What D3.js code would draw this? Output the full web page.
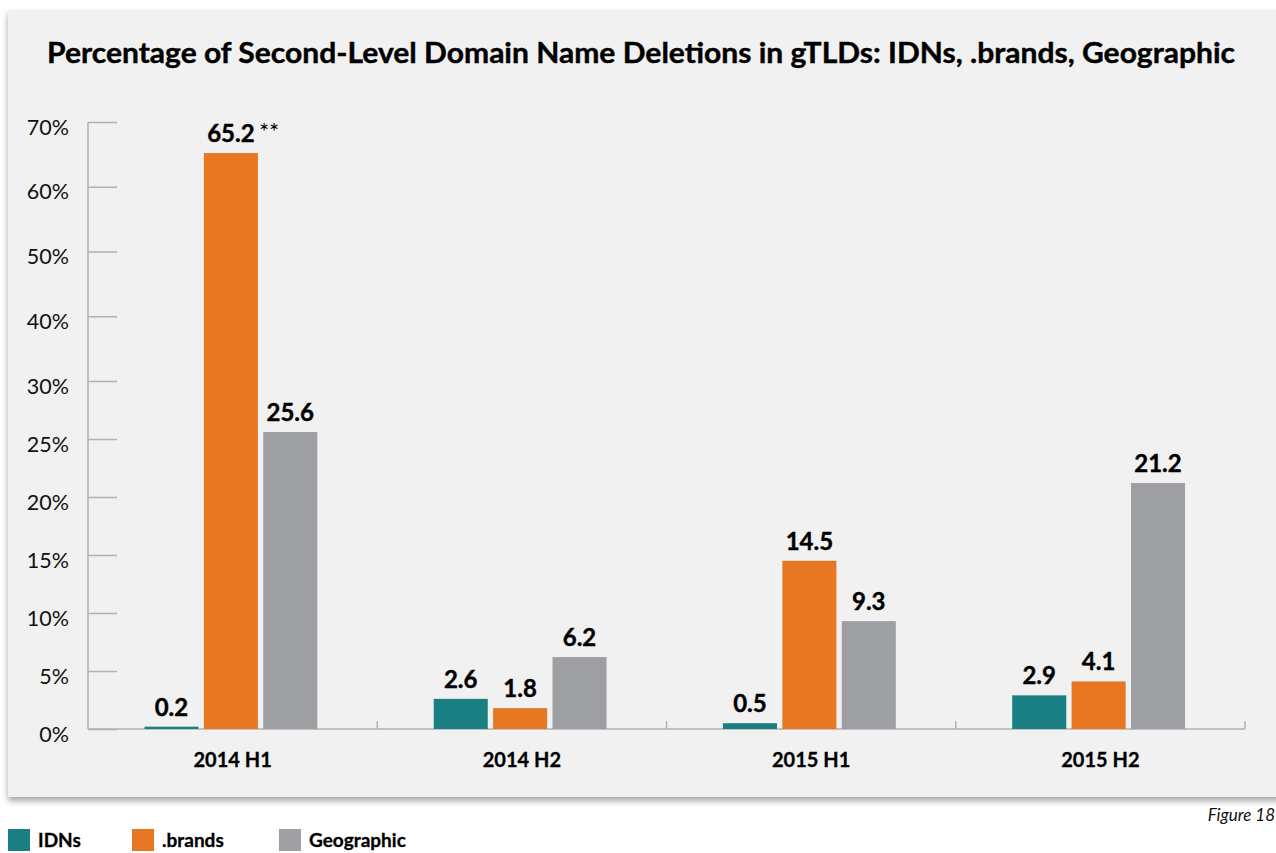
<!DOCTYPE html>
<html>
<head>
<meta charset="utf-8">
<script src="https://cdn.jsdelivr.net/npm/d3@7"></script>
<style>
  html, body { margin: 0; padding: 0; background: #ffffff; }
  svg { display: block; }
</style>
</head>
<body>
<script>
const categories = ["2014 H1", "2014 H2", "2015 H1", "2015 H2"];
const seriesNames = ["IDNs", ".brands", "Geographic"];
const idns = [0.2, 2.6, 0.5, 2.9];
const brands = [65.2, 1.8, 14.5, 4.1];
const geographic = [25.6, 6.2, 9.3, 21.2];
const seriesValues = [idns, brands, geographic];
const colors = ["#1a7f82", "#e87722", "#9e9fa3"];
const yTicks = [0, 5, 10, 15, 20, 25, 30, 40, 50, 60, 70];
const title = "Percentage of Second-Level Domain Name Deletions in gTLDs: IDNs, .brands, Geographic";
const footnoteMark = "**";
const figureLabel = "Figure 18";

const W = 1276, H = 853;
const svg = d3.select("body").append("svg").attr("width", W).attr("height", H);

const defs = svg.append("defs");
const f = defs.append("filter").attr("id", "shadow").attr("x", "-5%").attr("y", "-5%").attr("width", "110%").attr("height", "115%");
f.append("feDropShadow").attr("dx", 0).attr("dy", 4).attr("stdDeviation", 3).attr("flood-color", "#000").attr("flood-opacity", 0.35);

// panel
svg.append("rect").attr("x", 8).attr("y", 10).attr("width", W + 20).attr("height", 787)
  .attr("fill", "#f1f1f1").attr("filter", "url(#shadow)");

// title
svg.append("text").attr("x", 641).attr("y", 63).attr("text-anchor", "middle")
  .attr("font-family", "Lato, sans-serif").attr("font-weight", 700).attr("font-size", 28)
  .attr("textLength", 1188).attr("lengthAdjust", "spacingAndGlyphs")
  .attr("stroke", "#000").attr("stroke-width", 0.4)
  .attr("fill", "#000").text(title);

// scales
const y = d3.scaleLinear().domain([0, 30, 70]).range([729, 381, 122]);
const x0 = d3.scaleBand().domain(categories).range([88, 1245]).padding(0);
const x1 = d3.scaleBand().domain(seriesNames).range([0, x0.bandwidth()])
  .paddingInner(0.09).paddingOuter(0.98).align(0.485);

const axisColor = "#b1b1b5";

// y axis
const yAxis = svg.append("g").attr("transform", "translate(88,0)")
  .call(d3.axisRight(y).tickValues(yTicks).tickSize(29).tickFormat(""));
yAxis.select(".domain").remove();
yAxis.selectAll(".tick line").attr("stroke", axisColor).attr("stroke-width", 1.5);
svg.append("line").attr("x1", 88).attr("x2", 88).attr("y1", y(70)).attr("y2", y(0))
  .attr("stroke", axisColor).attr("stroke-width", 1.5);

svg.append("g").selectAll("text").data(yTicks).join("text")
  .attr("x", 69).attr("y", d => y(d) + 5).attr("dy", "0.36em").attr("text-anchor", "end")
  .attr("font-family", "Lato, sans-serif").attr("font-size", 21.5).attr("fill", "#111")
  .text(d => d + "%");

// x axis baseline
svg.append("line").attr("x1", 88).attr("x2", 1245).attr("y1", y(0)).attr("y2", y(0))
  .attr("stroke", axisColor).attr("stroke-width", 1.5);
svg.append("g").selectAll("line").data(categories).join("line")
  .attr("x1", d => x0(d) + x0.bandwidth()).attr("x2", d => x0(d) + x0.bandwidth())
  .attr("y1", y(0)).attr("y2", y(0) - 8)
  .attr("stroke", axisColor).attr("stroke-width", 1.5);

svg.append("g").selectAll("text").data(categories).join("text")
  .attr("x", d => x0(d) + x0.bandwidth() / 2).attr("y", 767).attr("text-anchor", "middle")
  .attr("font-family", "Lato, sans-serif").attr("font-weight", 700).attr("font-size", 20).attr("fill", "#000")
  .attr("stroke", "#000").attr("stroke-width", 0.3)
  .text(d => d);

// bars
const barData = [];
categories.forEach((c, i) => {
  seriesNames.forEach((s, j) => {
    barData.push({ cat: c, series: s, value: seriesValues[j][i], color: colors[j] });
  });
});

svg.append("g").selectAll("rect").data(barData).join("rect")
  .attr("x", d => x0(d.cat) + x1(d.series))
  .attr("width", x1.bandwidth())
  .attr("y", d => y(d.value))
  .attr("height", d => y(0) - y(d.value))
  .attr("fill", d => d.color);

svg.append("g").selectAll("text").data(barData).join("text")
  .attr("x", d => x0(d.cat) + x1(d.series) + x1.bandwidth() / 2)
  .attr("y", d => y(d.value) - 11)
  .attr("text-anchor", "middle")
  .attr("font-family", "Lato, sans-serif").attr("font-weight", 700).attr("font-size", 24).attr("fill", "#000")
  .attr("stroke", "#000").attr("stroke-width", 0.4)
  .text(d => d.value.toFixed(1));

// footnote mark on the 65.2 label
const maxBar = barData.reduce((a, b) => (b.value > a.value ? b : a));
svg.append("text")
  .attr("x", x0(maxBar.cat) + x1(maxBar.series) + x1.bandwidth() / 2 + 28)
  .attr("y", y(maxBar.value) - 13)
  .attr("font-family", "Lato, sans-serif").attr("font-size", 24).attr("fill", "#000")
  .text(footnoteMark);

// figure label
svg.append("text").attr("x", 1275).attr("y", 821).attr("text-anchor", "end")
  .attr("font-family", "Lato, sans-serif").attr("font-style", "italic").attr("font-size", 17).attr("fill", "#111")
  .text(figureLabel);

// legend
const legendX = [8, 132, 279];
const legend = svg.append("g").selectAll("g").data(seriesNames).join("g")
  .attr("transform", (d, i) => `translate(${legendX[i]},829)`);
legend.append("rect").attr("width", 22).attr("height", 22).attr("fill", (d, i) => colors[i]);
legend.append("text").attr("x", 30).attr("y", 18)
  .attr("font-family", "Lato, sans-serif").attr("font-weight", 700).attr("font-size", 19).attr("fill", "#000")
  .attr("stroke", "#000").attr("stroke-width", 0.3)
  .text(d => d);
</script>
</body>
</html>
